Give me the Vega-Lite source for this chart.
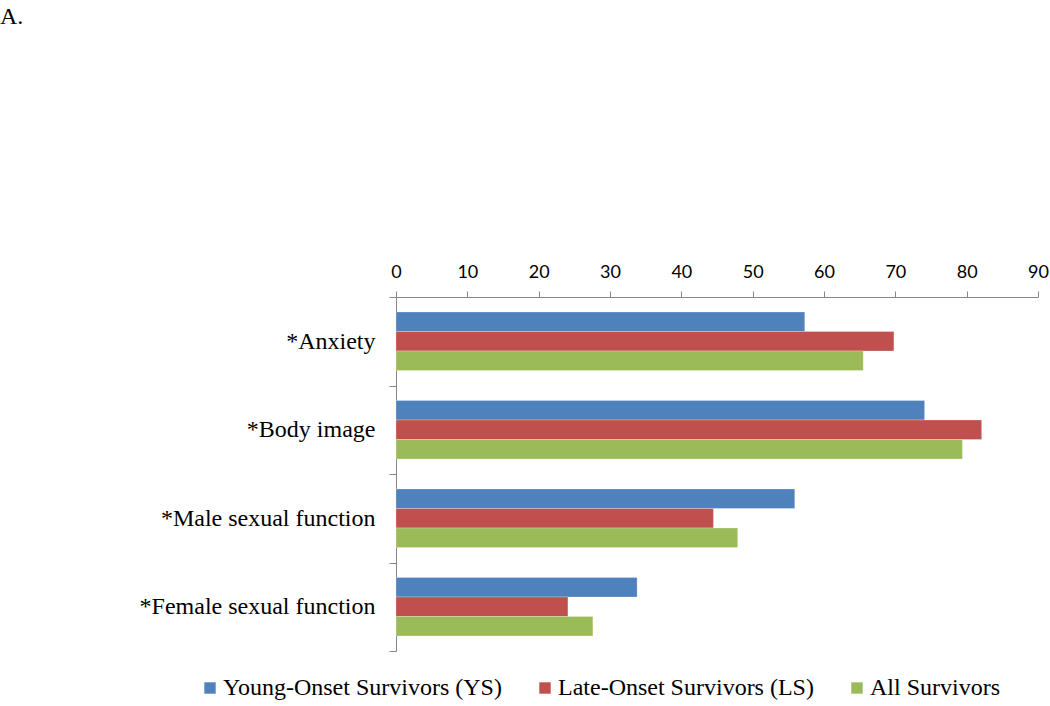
{
  "$schema": "https://vega.github.io/schema/vega-lite/v6.json",
  "autosize": "none",
  "width": 642,
  "height": 354,
  "padding": {"left": 396, "top": 297, "right": 12, "bottom": 55},
  "background": "white",
  "title": {
    "text": "A.",
    "anchor": "start",
    "frame": "group",
    "font": "Liberation Serif",
    "fontSize": 24,
    "fontWeight": "normal",
    "color": "black",
    "dx": -396,
    "dy": -230
  },
  "data": {
    "values": [
      {"category": "*Anxiety", "group": "Young-Onset Survivors (YS)", "value": 57.3},
      {"category": "*Anxiety", "group": "Late-Onset Survivors (LS)", "value": 69.8},
      {"category": "*Anxiety", "group": "All Survivors", "value": 65.5},
      {"category": "*Body image", "group": "Young-Onset Survivors (YS)", "value": 74.1},
      {"category": "*Body image", "group": "Late-Onset Survivors (LS)", "value": 82.1},
      {"category": "*Body image", "group": "All Survivors", "value": 79.4},
      {"category": "*Male sexual function", "group": "Young-Onset Survivors (YS)", "value": 55.9},
      {"category": "*Male sexual function", "group": "Late-Onset Survivors (LS)", "value": 44.5},
      {"category": "*Male sexual function", "group": "All Survivors", "value": 47.9},
      {"category": "*Female sexual function", "group": "Young-Onset Survivors (YS)", "value": 33.8},
      {"category": "*Female sexual function", "group": "Late-Onset Survivors (LS)", "value": 24.1},
      {"category": "*Female sexual function", "group": "All Survivors", "value": 27.6}
    ]
  },
  "mark": {"type": "bar", "stroke": "white", "strokeOpacity": 0.5, "strokeWidth": 0.5},
  "encoding": {
    "x": {
      "field": "value",
      "type": "quantitative",
      "scale": {"domain": [0, 90], "nice": false},
      "axis": {
        "orient": "top",
        "title": null,
        "values": [0, 10, 20, 30, 40, 50, 60, 70, 80, 90],
        "grid": false,
        "domainColor": "#868686",
        "tickColor": "#868686",
        "tickSize": 6,
        "labelPadding": 10,
        "labelFont": "Lato",
        "labelFontSize": 18,
        "labelColor": "black",
        "labelFlush": false
      }
    },
    "y": {
      "field": "category",
      "type": "nominal",
      "sort": ["*Anxiety", "*Body image", "*Male sexual function", "*Female sexual function"],
      "scale": {"paddingInner": 0, "paddingOuter": 0},
      "axis": {
        "title": null,
        "tickBand": "extent",
        "domainColor": "#868686",
        "tickColor": "#868686",
        "tickSize": 7,
        "labelPadding": 14,
        "labelFont": "Liberation Serif",
        "labelFontSize": 24,
        "labelColor": "black",
        "labelLimit": 400
      }
    },
    "yOffset": {
      "field": "group",
      "type": "nominal",
      "sort": ["Young-Onset Survivors (YS)", "Late-Onset Survivors (LS)", "All Survivors"],
      "scale": {"paddingInner": 0, "paddingOuter": 0.77}
    },
    "color": {
      "field": "group",
      "type": "nominal",
      "sort": ["Young-Onset Survivors (YS)", "Late-Onset Survivors (LS)", "All Survivors"],
      "scale": {"range": ["#4F81BD", "#C0504D", "#9BBB59"]},
      "legend": {
        "title": null,
        "orient": "none",
        "direction": "horizontal",
        "legendX": -198,
        "legendY": 379,
        "symbolType": "square",
        "symbolSize": 130,
        "symbolStrokeWidth": 0,
        "labelFont": "Liberation Serif",
        "labelFontSize": 24,
        "labelColor": "black",
        "labelOffset": 1,
        "columnPadding": 31,
        "labelLimit": 500
      }
    }
  },
  "config": {"view": {"stroke": null}}
}
